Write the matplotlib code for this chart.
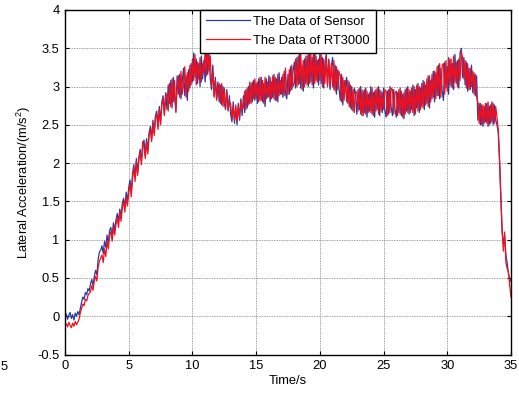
import numpy as np
import matplotlib
matplotlib.use("Agg")
import matplotlib.pyplot as plt
from matplotlib.ticker import FormatStrFormatter, MultipleLocator

plt.rcParams['font.family'] = ['Liberation Sans', 'DejaVu Sans']
plt.rcParams['mathtext.fontset'] = 'custom'
plt.rcParams['mathtext.rm'] = 'Liberation Sans'
plt.rcParams['mathtext.it'] = 'Liberation Sans'

dt = 0.1
sensor = [
    -0.02, 0.03, -0.04, 0.01, 0.05, -0.03, 0.02, -0.05, 0.04, 0.00,
    0.06, 0.02, 0.10, 0.18, 0.25, 0.22, 0.31, 0.28, 0.36, 0.33,
    0.42, 0.48, 0.40, 0.52, 0.60, 0.54, 0.74, 0.84, 0.86, 0.92,
    0.82, 0.98, 0.90, 1.06, 0.96, 1.12, 1.16, 1.04, 1.22, 1.12,
    1.26, 1.34, 1.24, 1.40, 1.30, 1.48, 1.54, 1.42, 1.62, 1.50,
    1.68, 1.78, 1.62, 1.86, 1.98, 1.82, 2.06, 1.88, 2.08, 2.18,
    2.02, 2.24, 2.30, 2.10, 2.32, 2.16, 2.40, 2.48, 2.32, 2.56,
    2.40, 2.62, 2.68, 2.48, 2.74, 2.54, 2.80, 2.88, 2.64, 2.92,
    2.70, 3.02, 2.78, 3.08, 2.72, 3.12, 2.86, 2.68, 3.14, 2.90,
    3.16, 2.84, 3.06, 3.24, 2.88, 3.14, 2.82, 3.22, 2.98, 3.30,
    3.06, 3.44, 3.12, 3.36, 3.04, 3.30, 3.00, 3.40, 3.10, 3.34,
    3.06, 3.42, 3.16, 3.46, 3.10, 2.96, 3.28, 2.88, 3.12, 2.84,
    3.06, 2.80, 3.02, 2.76, 3.00, 2.78, 2.70, 2.96, 2.68, 2.88,
    2.64, 2.54, 2.80, 2.52, 2.72, 2.50, 2.78, 2.56, 2.84, 2.62,
    2.88, 2.66, 2.96, 2.72, 3.00, 2.78, 3.04, 2.80, 3.08, 2.82,
    3.04, 2.78, 3.10, 2.82, 3.12, 2.80, 3.04, 2.74, 3.10, 2.86,
    3.14, 2.80, 3.06, 2.86, 3.16, 2.82, 3.10, 2.80, 3.18, 2.90,
    3.12, 2.86, 3.20, 2.92, 2.84, 3.16, 2.90, 3.26, 2.96, 3.20,
    3.32, 2.98, 3.38, 3.02, 3.42, 2.98, 3.28, 2.94, 3.36, 3.04,
    3.40, 3.00, 3.46, 3.06, 3.38, 2.98, 3.48, 3.08, 3.34, 3.02,
    3.44, 3.04, 3.38, 2.98, 3.30, 3.42, 3.02, 3.36, 2.96, 3.26,
    3.38, 2.96, 3.28, 2.90, 3.22, 2.98, 2.82, 3.16, 2.76, 3.08,
    2.98, 3.12, 2.78, 3.06, 2.72, 3.00, 2.68, 2.98, 2.90, 2.64,
    2.96, 2.70, 3.00, 2.62, 2.94, 2.66, 2.98, 2.60, 2.90, 2.68,
    3.00, 2.64, 2.92, 2.60, 2.96, 2.70, 3.00, 2.62, 2.94, 2.66,
    2.98, 2.68, 2.60, 2.94, 2.64, 3.00, 2.72, 2.62, 2.96, 2.70,
    2.60, 2.92, 2.66, 2.98, 2.62, 2.90, 2.58, 2.96, 2.68, 3.00,
    2.64, 2.94, 2.70, 3.02, 2.62, 2.96, 2.72, 3.04, 2.66, 2.98,
    2.74, 3.08, 2.70, 3.02, 2.78, 3.14, 2.72, 3.08, 2.84, 3.20,
    2.80, 3.18, 2.88, 3.28, 2.84, 3.24, 2.94, 2.82, 3.32, 2.98,
    3.26, 2.90, 3.36, 3.00, 3.30, 2.96, 3.42, 3.04, 3.34, 2.98,
    3.44, 3.50, 3.12, 3.38, 3.02, 3.32, 2.94, 3.24, 2.96, 3.28,
    2.92, 3.18, 2.88, 3.14, 2.56, 2.78, 2.50, 2.76, 2.48, 2.74,
    2.54, 2.78, 2.48, 2.74, 2.52, 2.80, 2.50, 2.76, 2.56, 2.50,
    2.40, 2.00, 1.55, 1.10, 0.95, 1.05, 0.80, 0.70, 0.55, 0.50,
    0.45,
]
rt3000 = [
    -0.12, -0.10, -0.14, -0.08, -0.12, -0.15, -0.09, -0.13, -0.07, -0.11,
    -0.08, -0.04, 0.04, 0.10, 0.16, 0.14, 0.22, 0.20, 0.27, 0.30,
    0.32, 0.40, 0.34, 0.46, 0.52, 0.46, 0.64, 0.72, 0.76, 0.80,
    0.70, 0.88, 0.78, 0.98, 0.88, 1.06, 1.10, 0.98, 1.16, 1.06,
    1.20, 1.28, 1.16, 1.36, 1.24, 1.42, 1.50, 1.36, 1.56, 1.44,
    1.62, 1.72, 1.56, 1.80, 1.94, 1.76, 2.02, 1.84, 2.04, 2.14,
    1.98, 2.28, 2.20, 2.06, 2.28, 2.12, 2.36, 2.44, 2.28, 2.52,
    2.36, 2.58, 2.64, 2.44, 2.70, 2.50, 2.76, 2.84, 2.62, 2.88,
    2.90, 2.68, 3.04, 2.74, 3.10, 2.80, 3.08, 2.66, 3.00, 3.14,
    2.86, 3.20, 2.90, 3.02, 3.26, 2.86, 3.18, 2.94, 3.28, 3.02,
    3.36, 3.08, 3.42, 3.02, 3.32, 3.10, 3.38, 3.06, 3.30, 3.18,
    3.48, 3.14, 3.56, 3.20, 3.40, 3.02, 3.20, 2.86, 3.08, 2.82,
    2.96, 3.04, 2.78, 3.04, 2.74, 2.98, 2.72, 2.92, 2.70, 2.80,
    2.78, 2.58, 2.74, 2.56, 2.76, 2.54, 2.74, 2.60, 2.82, 2.70,
    2.74, 2.94, 2.70, 2.98, 2.76, 3.06, 2.78, 3.06, 2.84, 3.10,
    2.84, 3.06, 2.80, 3.12, 2.82, 3.08, 2.78, 3.12, 2.84, 3.06,
    2.86, 3.12, 2.84, 3.14, 2.84, 3.12, 2.82, 3.16, 2.88, 3.08,
    2.90, 3.16, 2.88, 3.24, 2.94, 2.90, 3.22, 2.94, 3.28, 3.00,
    3.04, 3.36, 3.00, 3.40, 3.04, 3.44, 2.96, 3.34, 3.00, 3.40,
    3.02, 3.44, 3.04, 3.42, 3.02, 3.46, 3.04, 3.40, 3.06, 3.36,
    3.08, 3.44, 3.00, 3.36, 3.04, 3.40, 3.00, 3.34, 3.00, 3.30,
    3.00, 3.34, 2.94, 3.26, 2.96, 3.20, 3.14, 2.80, 3.12, 2.82,
    3.08, 2.80, 3.08, 2.74, 3.02, 2.70, 2.96, 2.66, 2.94, 2.92,
    2.68, 2.98, 2.64, 2.96, 2.62, 2.96, 2.64, 2.94, 2.66, 2.92,
    2.66, 2.98, 2.62, 2.94, 2.68, 2.98, 2.64, 2.96, 2.68, 2.92,
    2.70, 2.96, 2.94, 2.62, 2.96, 2.66, 2.98, 2.96, 2.64, 2.92,
    2.94, 2.62, 2.96, 2.64, 2.94, 2.60, 2.92, 2.64, 2.98, 2.66,
    2.96, 2.66, 2.98, 2.66, 3.00, 2.64, 3.02, 2.68, 3.00, 2.70,
    3.04, 2.72, 3.06, 2.76, 3.10, 2.74, 3.14, 2.80, 3.16, 2.86,
    3.20, 2.84, 3.26, 2.88, 3.30, 2.86, 3.28, 3.30, 2.90, 3.34,
    2.94, 3.38, 3.02, 3.36, 2.98, 3.40, 3.06, 3.32, 3.00, 3.36,
    3.08, 3.46, 3.36, 3.10, 3.34, 2.98, 3.30, 2.96, 3.24, 3.00,
    3.20, 2.90, 3.16, 2.86, 2.80, 2.52, 2.78, 2.50, 2.76, 2.52,
    2.78, 2.52, 2.80, 2.50, 2.76, 2.54, 2.78, 2.52, 2.74, 2.60,
    2.44, 2.10, 1.60, 1.15, 0.85, 1.10, 0.70, 0.62, 0.58, 0.40,
    0.25,
]
labels = ['The Data of Sensor', 'The Data of RT3000']
xticks = [0, 5, 10, 15, 20, 25, 30, 35]

t_s = np.arange(len(sensor)) * dt
t_r = np.arange(len(rt3000)) * dt

W, H = 519, 396
fig = plt.figure(figsize=(W / 100, H / 100), dpi=100)
ax = fig.add_axes([65 / W, 1 - 354.5 / H, (511 - 65) / W, (354.5 - 10) / H])

ax.plot(t_s, sensor, color='#2a3c9c', lw=0.9, label=labels[0])
ax.plot(t_r, rt3000, color='#f01020', lw=0.9, label=labels[1])

ax.set_xlim(0, 35)
ax.set_ylim(-0.5, 4)
ax.set_xticks(xticks)
ax.yaxis.set_major_locator(MultipleLocator(0.5))
ax.yaxis.set_major_formatter(FormatStrFormatter('%g'))
ax.xaxis.set_major_formatter(FormatStrFormatter('%g'))
ax.grid(True, color='#808080', linestyle=(0, (1, 1)), linewidth=0.6)
ax.tick_params(direction='in', length=3, width=0.8, top=True, right=True,
               labelsize=9.3, pad=4, colors='black')
for s in ax.spines.values():
    s.set_linewidth(1.0)
    s.set_color('black')

ax.set_xlabel('Time/s', fontsize=9.3, labelpad=2)
ax.set_ylabel(r'Lateral Acceleration/(m/s$^2$)', fontsize=9.3, labelpad=3)

leg = ax.legend(loc='upper center', bbox_to_anchor=(0.5, 1.0), fontsize=9.3,
                fancybox=False, framealpha=1, edgecolor='black',
                borderaxespad=0, handlelength=3.4, handletextpad=0.25,
                borderpad=0.45, labelspacing=0.55)
leg.get_frame().set_linewidth(1.0)

fig.text(0.5 / W, 1 - 367 / H, '5', fontsize=9.3, ha='left', va='center')

fig.savefig('out.png', dpi=100)
